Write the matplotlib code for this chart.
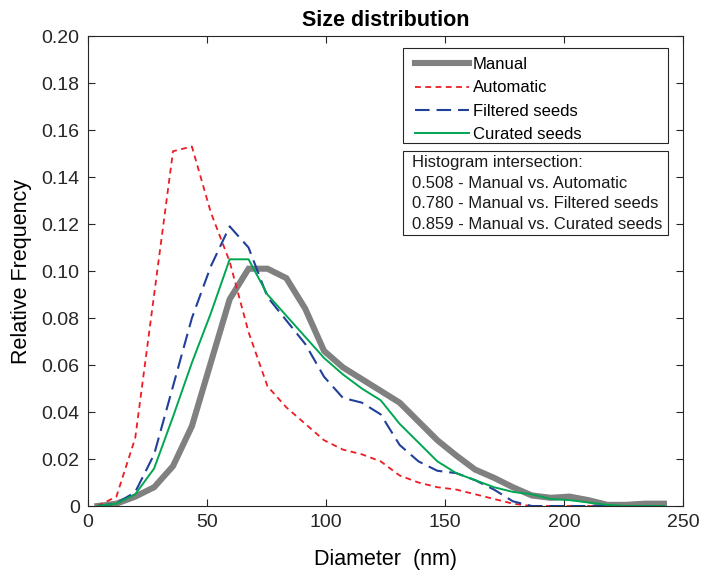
import numpy as np
import matplotlib
matplotlib.use('Agg')
import matplotlib.pyplot as plt
from matplotlib.patches import Rectangle

plt.rcParams['font.family'] = ['Liberation Sans', 'DejaVu Sans']
plt.rcParams['lines.scale_dashes'] = False

# bin centres (nm)
diameter = np.linspace(4, 242, 31)

manual = [0.000, 0.001, 0.004, 0.008, 0.017, 0.034, 0.061, 0.088, 0.101, 0.101,
          0.097, 0.084, 0.066, 0.059, 0.054, 0.049, 0.044, 0.036, 0.028, 0.0215,
          0.0155, 0.012, 0.008, 0.0045, 0.0035, 0.004, 0.0025, 0.0005, 0.0005, 0.001, 0.001]
automatic = [0.000, 0.004, 0.029, 0.090, 0.151, 0.153, 0.125, 0.104, 0.074, 0.051,
             0.042, 0.035, 0.028, 0.024, 0.022, 0.019, 0.013, 0.010, 0.008, 0.007,
             0.005, 0.003, 0.001, 0.000, 0.000, 0.000, 0.000, 0.000, 0.000, 0.000, 0.000]
filtered = [0.000, 0.001, 0.006, 0.022, 0.051, 0.080, 0.102, 0.119, 0.110, 0.089,
            0.079, 0.069, 0.055, 0.046, 0.044, 0.039, 0.026, 0.019, 0.015, 0.014,
            0.011, 0.007, 0.002, 0.000, 0.000, 0.000, 0.000, 0.000, 0.000, 0.000, 0.000]
curated = [0.000, 0.001, 0.005, 0.016, 0.038, 0.061, 0.082, 0.105, 0.105, 0.090,
           0.081, 0.072, 0.063, 0.056, 0.050, 0.045, 0.035, 0.027, 0.019, 0.014,
           0.011, 0.008, 0.006, 0.005, 0.003, 0.0025, 0.0015, 0.0005, 0.000, 0.000, 0.000]

labels = ['Manual', 'Automatic', 'Filtered seeds', 'Curated seeds']
intersection = [('0.508', 'Manual vs. Automatic'),
                ('0.780', 'Manual vs. Filtered seeds'),
                ('0.859', 'Manual vs. Curated seeds')]

xticks = [0, 50, 100, 150, 200, 250]
yticks = [0, 0.02, 0.04, 0.06, 0.08, 0.10, 0.12, 0.14, 0.16, 0.18, 0.20]
ytick_labels = ['0'] + ['%.2f' % v for v in yticks[1:]]

fig = plt.figure(figsize=(7.01, 5.71), dpi=100)
ax = fig.add_axes([0.1255, 0.1138, 0.8488, 0.823])

ax.plot(diameter, manual, color='#808080', lw=4.4, label=labels[0], solid_joinstyle='miter')
ax.plot(diameter, automatic, color='#ed1c24', lw=1.3, dashes=(4.2, 3.2), label=labels[1])
ax.plot(diameter, filtered, color='#21409a', lw=1.5, dashes=(10.5, 5.0), label=labels[2])
ax.plot(diameter, curated, color='#00a651', lw=1.4, label=labels[3])

ax.set_xlim(0, 250)
ax.set_ylim(0, 0.20)
ax.set_xticks(xticks)
ax.set_yticks(yticks)
ax.set_yticklabels(ytick_labels)
ax.tick_params(direction='in', top=True, right=True, length=5, width=0.8,
               labelsize=14, colors='#262626', pad=6)
for s in ax.spines.values():
    s.set_color('#262626')
    s.set_linewidth(0.8)

ax.set_title('Size distribution', fontsize=15.5, fontweight='bold', pad=7)
ax.set_xlabel('Diameter  (nm)', fontsize=15.5, labelpad=13)
ax.set_ylabel('Relative Frequency', fontsize=15.5, labelpad=7)

# legend frame drawn separately so the inner padding can be placed freely
ax.add_patch(Rectangle((0.529, 0.772), 0.446, 0.202, transform=ax.transAxes,
                       facecolor='white', edgecolor='#262626', lw=0.8, zorder=5))
leg = ax.legend(loc='upper left', bbox_to_anchor=(0.5496, 0.955),
                fontsize=12, frameon=False, handlelength=3.24, handletextpad=0.24,
                labelspacing=0.49, borderpad=0.0, borderaxespad=0.0)
leg.set_zorder(6)

ax.add_patch(Rectangle((0.529, 0.577), 0.446, 0.178, transform=ax.transAxes,
                       facecolor='white', edgecolor='#262626', lw=0.8, zorder=5))
lines = ['Histogram intersection:'] + ['%s - %s' % (v, t) for v, t in intersection]
ys = [0.730, 0.686, 0.643, 0.600]
for txt, yy in zip(lines, ys):
    ax.text(0.545, yy, txt, transform=ax.transAxes, fontsize=12, va='center',
            ha='left', zorder=6, color='#1a1a1a')

fig.savefig('out.png', dpi=100)
